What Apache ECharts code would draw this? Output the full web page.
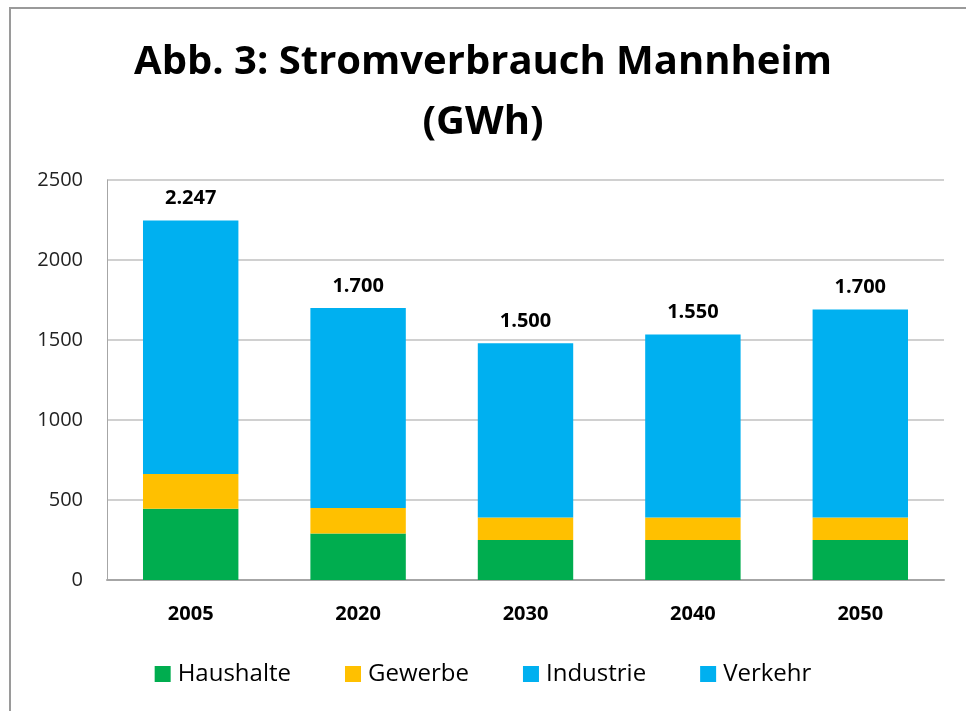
<!DOCTYPE html>
<html>
<head>
<meta charset="utf-8">
<script src="https://cdn.jsdelivr.net/npm/echarts@6/dist/echarts.min.js"></script>
<style>
    html, body {margin: 0; padding: 0; background: #ffffff;}
    #chart {width: 966px; height: 711px;}
</style>
</head>
<body>
<div id="chart"></div>
<script>
    // Werte (GWh)
    const years = ['2005', '2020', '2030', '2040', '2050'];
    const haushalte = [445, 290, 250, 250, 250];
    const gewerbe = [217, 160, 140, 140, 140];
    const industrie = [1585, 1250, 1090, 1145, 1300];
    const verkehr = [0, 0, 0, 0, 0];
    const totalLabels = ['2.247', '1.700', '1.500', '1.550', '1.700'];
    const yTicks = [0, 500, 1000, 1500, 2000, 2500];

    const font = '"Open Sans", "Noto Sans", sans-serif';

    const myChart = echarts.init(document.getElementById('chart'));

    const option = {
        backgroundColor: '#ffffff',
        animation: false,
        title: {
            text: 'Abb. 3: Stromverbrauch Mannheim\n(GWh)',
            left: 'center',
            top: 28,
            textStyle: {
                fontFamily: font,
                fontSize: 40,
                fontWeight: 'bold',
                color: '#000000',
                lineHeight: 60
            }
        },
        color: ['#00ad4f', '#ffc000', '#00b0f0', '#00b0f0'],
        legend: {
            bottom: 20,
            left: 'center',
            itemWidth: 16,
            itemHeight: 16,
            itemGap: 54,
            icon: 'rect',
            textStyle: {
                fontFamily: font,
                fontSize: 24,
                color: '#000000',
                padding: [0, 0, 0, 2]
            },
            data: ['Haushalte', 'Gewerbe', 'Industrie', 'Verkehr']
        },
        grid: {
            left: 107,
            right: 22,
            top: 180,
            bottom: 131
        },
        xAxis: {
            type: 'category',
            data: years,
            axisLine: {lineStyle: {color: '#a6a6a6', width: 2}},
            axisTick: {show: false},
            axisLabel: {
                fontFamily: font,
                fontSize: 20,
                fontWeight: 'bold',
                color: '#000000',
                margin: 24
            }
        },
        yAxis: {
            type: 'value',
            min: yTicks[0],
            max: yTicks[yTicks.length - 1],
            interval: 500,
            axisLine: {show: true, lineStyle: {color: '#a6a6a6', width: 1}},
            axisTick: {show: false},
            splitLine: {lineStyle: {color: '#d0d0d0', width: 2}},
            axisLabel: {
                fontFamily: font,
                fontSize: 20,
                color: '#222222',
                margin: 24,
                formatter: function (value) {
                    return String(value);
                }
            }
        },
        series: [
            {name: 'Haushalte', type: 'bar', stack: 'all', data: haushalte, barWidth: '57%'},
            {name: 'Gewerbe', type: 'bar', stack: 'all', data: gewerbe},
            {
                name: 'Industrie', type: 'bar', stack: 'all', data: industrie,
                label: {
                    show: true,
                    position: 'top',
                    distance: 12,
                    fontFamily: font,
                    fontSize: 20,
                    fontWeight: 'bold',
                    color: '#000000',
                    formatter: function (p) {
                        return totalLabels[p.dataIndex];
                    }
                }
            },
            {name: 'Verkehr', type: 'bar', stack: 'all', data: verkehr}
        ],
        graphic: [{
            type: 'rect',
            shape: {x: 10, y: 8, width: 1000, height: 800},
            style: {fill: 'none', stroke: '#9a9a9a', lineWidth: 2},
            silent: true
        }]
    };

    myChart.setOption(option);
</script>
</body>
</html>
